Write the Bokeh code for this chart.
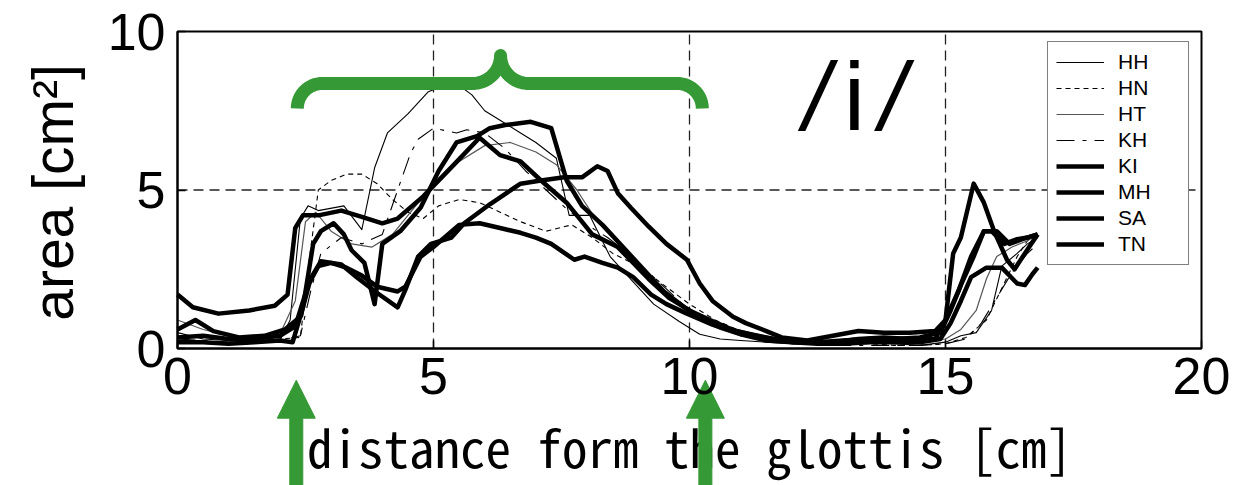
import numpy as np
from bokeh.plotting import figure
from bokeh.models import Range1d, FixedTicker, Label
from bokeh.core.properties import value
from bokeh.embed import file_html
from bokeh.resources import INLINE

# ---------------- data ----------------
X_TICKS = [0, 5, 10, 15, 20]
Y_TICKS = [0, 5, 10]
X_GRID = [5, 10, 15]
Y_GRID = [5]

HH_x = [0, 0.5, 1.0, 1.5, 2.0, 2.2, 2.4, 2.55, 2.75, 3.25, 3.6, 3.85, 4.1, 4.5, 4.9, 5.2, 5.5, 5.75, 6.0, 6.3, 6.7, 7.0, 7.4, 7.65, 8.05, 8.45, 8.9, 9.3, 9.8, 10.2, 10.6, 11.0, 11.5, 12.0, 12.5, 13.0, 13.5, 14.0, 14.5, 15.0, 15.3, 15.6, 15.9, 16.1, 16.4, 16.6, 16.8]
HH_y = [0.5, 0.3, 0.25, 0.2, 0.25, 0.9, 4.1, 4.5, 4.35, 4.5, 3.75, 5.7, 6.8, 7.4, 8.1, 8.3, 8.3, 8.0, 7.5, 7.2, 6.8, 6.5, 6.0, 4.2, 4.2, 2.9, 2.1, 1.4, 0.85, 0.45, 0.3, 0.25, 0.2, 0.15, 0.15, 0.2, 0.2, 0.15, 0.1, 0.2, 0.4, 0.5, 1.2, 2.6, 3.0, 3.3, 3.5]

HN_x = [0, 0.5, 1.0, 1.5, 2.0, 2.4, 2.55, 2.75, 3.0, 3.3, 3.6, 3.9, 4.2, 4.5, 4.8, 5.1, 5.5, 5.9, 6.3, 6.7, 7.2, 7.7, 8.1, 8.5, 9.0, 9.5, 10.0, 10.5, 11.0, 11.5, 12.0, 12.5, 13.0, 13.5, 14.0, 14.5, 15.0, 15.4, 15.8, 16.1, 16.4, 16.6, 16.8]
HN_y = [0.4, 0.35, 0.3, 0.25, 0.3, 0.35, 2.5, 5.0, 5.3, 5.5, 5.5, 5.2, 4.7, 4.3, 4.1, 4.5, 4.7, 4.6, 4.3, 4.0, 3.7, 3.9, 3.5, 3.0, 2.6, 2.0, 1.4, 0.9, 0.55, 0.35, 0.2, 0.15, 0.15, 0.15, 0.1, 0.1, 0.15, 0.35, 0.9, 1.9, 2.9, 3.4, 3.7]

HT_x = [0, 0.5, 1.0, 1.5, 2.0, 2.3, 2.5, 2.7, 3.0, 3.4, 3.8, 4.2, 4.6, 5.0, 5.5, 6.0, 6.5, 7.0, 7.4, 7.8, 8.2, 8.6, 9.0, 9.4, 9.8, 10.2, 10.6, 11.0, 11.5, 12.0, 12.5, 13.0, 13.5, 14.0, 14.5, 15.0, 15.3, 15.6, 15.8, 16.0, 16.3, 16.6, 16.8]
HT_y = [0.9, 0.6, 0.4, 0.35, 0.45, 1.5, 4.0, 4.3, 3.7, 3.3, 3.2, 3.6, 4.4, 5.2, 5.9, 6.4, 6.5, 6.2, 5.8, 5.0, 4.0, 3.4, 2.7, 2.0, 1.4, 0.9, 0.6, 0.4, 0.3, 0.2, 0.2, 0.2, 0.25, 0.2, 0.2, 0.3, 0.6, 1.2, 2.2, 2.9, 3.2, 3.4, 3.6]

KH_x = [0, 0.5, 1.0, 1.5, 2.0, 2.4, 2.6, 2.8, 3.2, 3.6, 4.0, 4.3, 4.55, 4.7, 5.0, 5.45, 5.65, 6.0, 6.4, 6.8, 7.2, 7.6, 8.0, 8.4, 8.8, 9.2, 9.6, 10.0, 10.5, 11.0, 11.5, 12.0, 12.5, 13.0, 13.5, 14.0, 14.5, 15.0, 15.4, 15.7, 16.0, 16.3, 16.6, 16.8]
KH_y = [0.3, 0.25, 0.2, 0.2, 0.25, 0.4, 1.8, 3.0, 3.5, 3.3, 3.6, 5.0, 6.15, 6.6, 6.95, 6.8, 6.9, 6.8, 6.3, 5.6, 5.0, 4.4, 3.9, 3.5, 3.0, 2.4, 1.8, 1.2, 0.7, 0.4, 0.25, 0.15, 0.15, 0.1, 0.1, 0.1, 0.1, 0.15, 0.3, 0.8, 1.6, 2.4, 3.0, 3.3]

KI_x = [0, 0.3, 0.8, 1.4, 1.9, 2.15, 2.3, 2.45, 2.75, 3.2, 3.6, 4.0, 4.3, 4.8, 5.4, 5.9, 6.3, 6.7, 7.1, 7.6, 8.1, 8.6, 9.2, 9.6, 10.0, 10.4, 10.9, 11.5, 12.0, 12.5, 13.0, 13.5, 14.0, 14.5, 14.9, 15.1, 15.3, 15.55, 15.75, 16.0, 16.25, 16.5, 16.8]
KI_y = [1.7, 1.3, 1.1, 1.2, 1.35, 1.7, 3.8, 4.2, 4.2, 4.35, 4.15, 3.95, 4.1, 4.8, 5.8, 6.65, 6.1, 5.9, 5.3, 4.6, 3.6, 3.2, 2.2, 1.6, 1.2, 0.9, 0.55, 0.35, 0.2, 0.2, 0.25, 0.3, 0.3, 0.35, 0.5, 1.2, 2.0, 2.9, 3.7, 3.7, 3.3, 3.45, 3.6]

MH_x = [0, 0.5, 1.0, 1.5, 2.0, 2.25, 2.45, 2.65, 2.8, 3.05, 3.25, 3.4, 3.65, 3.85, 4.0, 4.35, 4.75, 5.1, 5.45, 5.85, 6.1, 6.4, 6.9, 7.3, 7.6, 7.9, 8.3, 8.7, 9.1, 9.5, 9.9, 10.3, 10.8, 11.3, 11.8, 12.3, 12.8, 13.3, 13.8, 14.3, 14.8, 15.0, 15.15, 15.3, 15.55, 15.75, 15.95, 16.2, 16.35, 16.55, 16.8]
MH_y = [0.2, 0.2, 0.15, 0.2, 0.25, 0.2, 1.3, 3.3, 3.7, 3.95, 3.6, 3.1, 2.7, 1.4, 3.3, 3.7, 4.45, 5.6, 6.5, 6.7, 6.95, 7.05, 7.15, 6.95, 5.3, 4.5, 3.9, 3.2, 2.5, 1.8, 1.3, 0.9, 0.6, 0.4, 0.25, 0.2, 0.2, 0.3, 0.35, 0.3, 0.3, 0.9, 3.0, 3.5, 5.2, 4.6, 3.7, 2.8, 2.5, 3.0, 3.6]

SA_x = [0, 0.35, 0.7, 1.2, 1.7, 2.1, 2.4, 2.6, 2.8, 3.2, 3.5, 3.9, 4.3, 4.45, 4.7, 4.95, 5.35, 5.6, 6.1, 6.7, 7.1, 7.55, 7.9, 8.2, 8.4, 8.6, 8.85, 9.2, 9.55, 9.95, 10.2, 10.45, 10.85, 11.1, 11.5, 11.8, 12.3, 12.8, 13.3, 13.8, 14.3, 14.8, 15.0, 15.25, 15.5, 15.75, 15.9, 16.15, 16.4, 16.6, 16.8]
SA_y = [0.6, 0.9, 0.55, 0.35, 0.4, 0.6, 1.0, 2.2, 2.75, 2.65, 2.25, 1.75, 1.3, 1.85, 2.9, 3.3, 3.5, 3.95, 4.55, 5.2, 5.3, 5.4, 5.4, 5.75, 5.6, 4.9, 4.45, 3.85, 3.3, 2.8, 2.05, 1.5, 1.0, 0.8, 0.55, 0.35, 0.25, 0.4, 0.55, 0.5, 0.5, 0.55, 0.9, 1.8, 2.9, 3.7, 3.7, 3.3, 3.45, 3.5, 3.6]

TN_x = [0, 0.5, 1.0, 1.5, 2.0, 2.3, 2.55, 2.75, 3.0, 3.3, 3.6, 3.9, 4.3, 4.45, 4.75, 5.0, 5.5, 5.9, 6.3, 6.7, 7.0, 7.3, 7.75, 7.95, 8.3, 8.6, 8.9, 9.25, 9.55, 9.95, 10.45, 11.0, 11.5, 12.0, 12.5, 13.0, 13.5, 14.0, 14.5, 14.9, 15.1, 15.3, 15.5, 15.8, 16.1, 16.4, 16.55, 16.7, 16.8]
TN_y = [0.35, 0.4, 0.3, 0.3, 0.4, 0.7, 2.0, 2.6, 2.7, 2.55, 2.3, 1.95, 1.8, 1.95, 2.9, 3.2, 3.9, 3.95, 3.8, 3.65, 3.5, 3.3, 2.8, 2.9, 2.7, 2.55, 2.25, 1.7, 1.4, 1.1, 0.75, 0.45, 0.25, 0.2, 0.15, 0.15, 0.2, 0.2, 0.2, 0.3, 0.8, 1.5, 2.25, 2.55, 2.55, 2.05, 2.0, 2.35, 2.55]

SPEAKERS = ["HH", "HN", "HT", "KH", "KI", "MH", "SA", "TN"]
SERIES = {"HH": (HH_x, HH_y), "HN": (HN_x, HN_y), "HT": (HT_x, HT_y), "KH": (KH_x, KH_y),
          "KI": (KI_x, KI_y), "MH": (MH_x, MH_y), "SA": (SA_x, SA_y), "TN": (TN_x, TN_y)}

X_TITLE = "distance form the glottis [cm]"
Y_TITLE = "area [cm\u00b2]"
VOWEL_PARTS = ["/", "i", "/"]

# ---------------- layout (pixels of the 1236x485 canvas) ----------------
W, H = 1236, 485
PX_X0, PX_X20 = 177.0, 1201.0      # x = 0 and x = 20
PX_Y0, PX_Y10 = 348.0, 31.0        # y = 0 and y = 10
SX = (PX_X20 - PX_X0) / 20.0
SY = (PX_Y0 - PX_Y10) / 10.0

# annotation anchors (data units)
BRACE_LEFT, BRACE_RIGHT, BRACE_TIP = 2.34, 10.25, 6.31
BRACE_LEVEL = 8.36
ARROW_XS = [2.32, 10.31]
ARROW_TIP_Y, ARROW_TAIL_Y = -1.0, -4.6
VOWEL_XS = [12.48, 13.22, 13.97]
VOWEL_Y = 7.95

# ---------------- styles ----------------
STYLE = {
    "HH": dict(line_color="black", line_width=1.1),
    "HN": dict(line_color="black", line_width=1.1, line_dash="5 4"),
    "HT": dict(line_color="#555555", line_width=1.2),
    "KH": dict(line_color="black", line_width=1.1, line_dash="18 8 4 8"),
    "KI": dict(line_color="black", line_width=4.5),
    "MH": dict(line_color="black", line_width=4.5),
    "SA": dict(line_color="black", line_width=4.5),
    "TN": dict(line_color="black", line_width=4.5),
}
GREEN = "#359a35"
FONT = "Liberation Sans"

x_range = Range1d(-PX_X0 / SX, (W - PX_X0) / SX)
y_range = Range1d(-(H - PX_Y0) / SY, PX_Y0 / SY)

p = figure(width=W, height=H, output_backend="svg", toolbar_location=None,
           x_range=x_range, y_range=y_range,
           min_border_left=0, min_border_right=0, min_border_top=0, min_border_bottom=0)
p.background_fill_color = "white"
p.border_fill_color = "white"
p.outline_line_color = None
p.xgrid.visible = False
p.ygrid.visible = False

for ax, ticks, bnds in ((p.xaxis, X_TICKS, (0, 20)), (p.yaxis, Y_TICKS, (0, 10))):
    ax.fixed_location = 0
    ax.bounds = bnds
    ax.ticker = FixedTicker(ticks=ticks)
    ax.major_tick_in = 8
    ax.major_tick_out = 0
    ax.minor_tick_line_color = None
    ax.axis_line_width = 2
    ax.major_tick_line_width = 1.5
    ax.major_label_text_font = FONT
    ax.major_label_text_font_size = "52px"
    ax.major_label_text_color = "black"
p.xaxis.major_label_standoff = 9
p.yaxis.major_label_standoff = 12

# dashed grid inside the box
p.segment(x0=X_GRID, y0=[0] * len(X_GRID), x1=X_GRID, y1=[10] * len(X_GRID),
          line_color="#222222", line_width=1.3, line_dash="10 6")
p.segment(x0=[0] * len(Y_GRID), y0=Y_GRID, x1=[20] * len(Y_GRID), y1=Y_GRID,
          line_color="#222222", line_width=1.3, line_dash="10 6")

for name in SPEAKERS:
    xs, ys = SERIES[name]
    p.line(xs, ys, legend_label=name, line_join="round", **STYLE[name])

# box around the data area
p.quad(left=[0], right=[20], bottom=[0], top=[10], fill_color=None,
       line_color="black", line_width=2)

# axis titles (anchor shifted to compensate the renderer's baseline offset)
p.text(x=[10], y=[(PX_Y0 - 445) / SY], text=[X_TITLE],
       text_font=value("Noto Sans Mono CJK JP"), text_font_size="51px",
       text_align="center", text_baseline="alphabetic", text_color="black")
p.text(x=[(52 - PX_X0) / SX], y=[(PX_Y0 - 192) / SY], text=[Y_TITLE], angle=np.pi / 2,
       text_font=value(FONT), text_font_size="57px",
       text_align="center", text_baseline="alphabetic", text_color="black")

leg = p.legend[0]
leg.location = (1047, H - 265)
leg.padding = 8
leg.spacing = 2
leg.label_text_font = FONT
leg.label_text_font_size = "21px"
leg.label_text_color = "black"
leg.label_height = 20
leg.glyph_height = 20
leg.glyph_width = 48
leg.label_standoff = 14
leg.label_width = 62
leg.border_line_color = "black"
leg.border_line_width = 1.5
leg.background_fill_alpha = 1

# ---- green brace (built in pixel offsets, converted to data units) ----
r_end, r_mid = 25.0, 28.0
def arc(cx, cy, r, a0, a1, n=20):
    t = np.radians(np.linspace(a0, a1, n))
    return cx + r * np.cos(t), cy + r * np.sin(t)
xL = BRACE_LEFT * SX; xR = BRACE_RIGHT * SX; xM = BRACE_TIP * SX; yH = BRACE_LEVEL * SY
parts = [
    arc(xL + r_end, yH - r_end, r_end, 180, 90),
    arc(xM - r_mid, yH + r_mid, r_mid, 270, 360),
    arc(xM + r_mid, yH + r_mid, r_mid, 180, 270),
    arc(xR - r_end, yH - r_end, r_end, 90, 0),
]
bx = np.concatenate([q[0] for q in parts]) / SX
by = np.concatenate([q[1] for q in parts]) / SY
p.line(bx, by, line_color=GREEN, line_width=13, line_join="round", line_cap="butt")

# ---- green arrows below the axis ----
head_len = 38.0 / SY
head_half = 19.0 / SX
shaft_half = 6.5 / SX
base = ARROW_TIP_Y - head_len
axs, ays = [], []
for ax_ in ARROW_XS:
    axs.append([ax_ - shaft_half, ax_ - shaft_half, ax_ - head_half, ax_, ax_ + head_half, ax_ + shaft_half, ax_ + shaft_half])
    ays.append([ARROW_TAIL_Y, base, base, ARROW_TIP_Y, base, base, ARROW_TAIL_Y])
p.patches(axs, ays, fill_color=GREEN, line_color=GREEN, line_width=1)

for vx, txt in zip(VOWEL_XS, VOWEL_PARTS):
    p.add_layout(Label(x=vx, y=VOWEL_Y, text=txt, text_font=FONT, text_font_size="96px",
                       text_font_style="italic" if txt == "/" else "normal",
                       text_align="center", text_baseline="alphabetic", text_color="black"))

open("out.html", "w").write(file_html(p, INLINE))
